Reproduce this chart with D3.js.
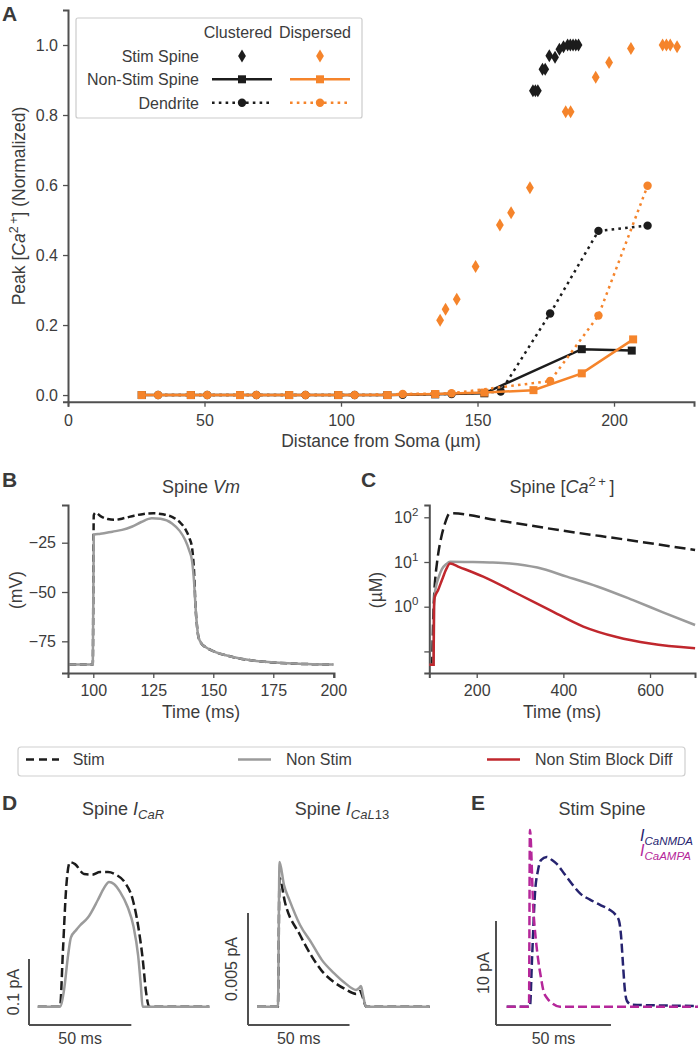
<!DOCTYPE html>
<html><head><meta charset="utf-8">
<script src="https://cdn.jsdelivr.net/npm/d3@7"></script>
<style>
html,body{margin:0;padding:0;background:#fff;}
svg text{font-family:"Liberation Sans",Arial,Helvetica,sans-serif;}
</style></head>
<body>
<svg id="fig" width="698" height="1045" xmlns="http://www.w3.org/2000/svg"></svg>
<script>
// ================= DATA =================
// Panel A : peak [Ca2+] (normalized) vs distance from soma (um)
const aTicksX = [0, 50, 100, 150, 200];
const aTicksY = [0, 0.2, 0.4, 0.6, 0.8, 1.0];
const sqDistDisp   = [27, 45, 63, 81, 99, 117, 134.5, 152.5, 170.5, 188.2, 207];
const nonStimDisp  = [0, 0, 0, 0, 0, 0, 0.003, 0.007, 0.014, 0.062, 0.159];
const sqDistClust  = [27, 45, 63, 81, 99, 117, 134.5, 152.5, 188.2, 206.5];
const nonStimClust = [0, 0, 0, 0, 0, 0, 0.002, 0.005, 0.131, 0.127];
const circDistDisp  = [33, 51, 69, 87, 105, 122.6, 140.5, 176.6, 194.3, 212.3];
const dendDisp      = [0, 0, 0, 0, 0, 0.003, 0.005, 0.04, 0.227, 0.598];
const circDistClust = [33, 51, 69, 87, 105, 122.6, 140.5, 158.5, 176.6, 194.3, 212.3];
const dendClust     = [0, 0, 0, 0, 0, 0.001, 0.003, 0.01, 0.233, 0.469, 0.484];
const stimDistClust = [170.3, 171.2, 172.1, 173.8, 174.8, 176.3, 178.4, 180, 181.5, 183, 184, 185, 186, 187];
const stimClust     = [0.869, 0.869, 0.869, 0.931, 0.931, 0.969, 0.965, 0.988, 0.995, 1, 1, 1, 1, 1];
const stimDistDisp  = [136.3, 138.3, 142.4, 149.3, 158.2, 162.3, 169.2, 182.3, 184.1, 193.3, 198.2, 206.2, 217.8, 219.2, 220.6, 223.1];
const stimDisp      = [0.214, 0.245, 0.274, 0.367, 0.486, 0.521, 0.592, 0.809, 0.809, 0.908, 0.95, 0.99, 1, 1, 1, 0.995];

// Panel B : spine Vm (mV) vs time (ms)
const bTicksX = [100, 125, 150, 175, 200];
const bTicksY = [-75, -50, -25];
const vmStimT = [90, 99.8, 100.2, 101, 103, 106, 109, 113, 117, 121, 125, 129, 133, 136, 138.3, 140, 141.2, 142, 142.6, 143.2, 143.8, 145, 146.6, 150, 157.7, 165, 171.6, 185.5, 200];
const vmStim  = [-86.7, -86.7, -11, -9.8, -11.5, -13, -13.4, -12.5, -11.3, -10.4, -10.1, -10.6, -12, -14.5, -18, -22.5, -28, -40, -57.4, -67, -72.7, -76, -77.8, -80, -82.8, -84.5, -85.4, -86.4, -86.8];
const vmNonT  = [90, 99.8, 100.2, 103, 108, 112, 116, 120, 124.4, 128, 132.8, 136, 138.3, 140, 141.1, 142, 142.6, 143.2, 143.8, 145, 146.6, 150, 157.7, 165, 171.6, 185.5, 200];
const vmNon   = [-86.7, -86.7, -21, -20.5, -19.4, -18.5, -16.9, -14.5, -12.6, -12.9, -15.2, -19, -23.6, -29, -33.8, -45, -57.4, -67, -72.7, -76, -77.8, -80, -82.8, -84.5, -85.4, -86.4, -86.8];

// Panel C : spine [Ca2+] (uM, log) vs time (ms)
const cTicksX = [200, 400, 600];
const cTicksY = [0.1, 1, 10, 100];
const caStimT = [90.6, 97, 98.5, 100, 102, 105, 108, 111.3, 118, 126.8, 138.3, 250, 400, 550, 704];
const caStim  = [0.05, 0.05, 0.2, 0.7, 2, 5, 9, 15.6, 35, 73, 123, 85, 50, 31, 18.5];
const caNonT  = [90.6, 100.5, 101.5, 103, 106, 112, 120, 130, 138.3, 180, 230, 277, 340, 408, 480, 561, 630, 704];
const caNon   = [0.05, 0.05, 1.0, 1.8, 2.8, 4.5, 7, 9, 10.1, 10, 9.8, 9.3, 7.5, 4.7, 2.8, 1.4, 0.75, 0.39];
const caBlkT  = [90.6, 100.5, 101.5, 103, 111, 120, 130, 138.3, 160, 215, 292, 369, 446, 523, 600, 704];
const caBlk   = [0.05, 0.05, 1.0, 1.6, 2.36, 4, 7, 9.3, 7.7, 4.7, 2.0, 0.84, 0.36, 0.21, 0.15, 0.117];

// Panel D : spine I_CaR (pA) and I_CaL13 (pA) vs time (ms from window start)
const carT_stim = [0, 10.85, 12.3, 13.8, 15.7, 18.2, 22.6, 26.5, 30.4, 34.3, 38.2, 42.6, 46.5, 49.0, 51.2, 52.9, 54.4, 83.8];
const car_stim  = [0, 0, 0.086, 0.177, 0.219, 0.216, 0.201, 0.200, 0.204, 0.204, 0.200, 0.188, 0.161, 0.123, 0.074, 0.022, 0, 0];
const carT_non  = [0, 10.85, 12.8, 14.8, 16.2, 18.7, 20.6, 24.5, 29.4, 32.4, 34.8, 37.2, 40.2, 43.9, 46.8, 49.0, 50.4, 51.2, 83.8];
const car_non   = [0, 0, 0.025, 0.078, 0.105, 0.116, 0.123, 0.135, 0.162, 0.180, 0.189, 0.186, 0.174, 0.151, 0.121, 0.078, 0.030, 0, 0];
const cal13T_stim = [0, 10.3, 11.1, 13.8, 21.2, 26.9, 32.0, 37.9, 43.3, 48.8, 50.7, 52.2, 53.7, 85];
const cal13_stim  = [0, 0, 0.00575, 0.00465, 0.00320, 0.00226, 0.00159, 0.00110, 0.00079, 0.00057, 0.00070, 0.00039, 0, 0];
const cal13T_non  = [0, 10.3, 11.1, 13.3, 16.0, 21.2, 26.9, 32.0, 37.9, 43.3, 48.8, 50.2, 51.2, 52.2, 53.7, 85];
const cal13_non   = [0, 0, 0.00646, 0.00543, 0.00476, 0.00365, 0.00284, 0.00208, 0.00150, 0.00106, 0.00075, 0.00083, 0.00092, 0.00052, 0, 0];

// Panel E : stim spine I_CaNMDA, I_CaAMPA (pA)
const nmdaT = [0, 10.1, 11.0, 12.3, 13.6, 14.9, 17.4, 19.7, 21.9, 25.3, 28.4, 31.9, 36.2, 40.6, 44.9, 47.1, 48.8, 49.7, 50.6, 51.4, 52.3, 54.3, 66.7, 83.2];
const nmda  = [0, 0, 4.5, 10.9, 13.1, 14.1, 14.4, 14.1, 13.7, 12.7, 11.8, 10.9, 10.3, 9.8, 9.3, 8.9, 8.3, 6.9, 4.0, 1.6, 0.55, 0.2, 0.12, 0.07];
const ampaT = [0, 9.7, 10.1, 11.6, 12.7, 13.7, 14.9, 15.9, 17.5, 19.6, 23.2, 83.2];
const ampa  = [0, 0, 17.0, 9.3, 6.4, 4.5, 2.8, 1.6, 0.84, 0.36, 0, 0];

// ================= STYLE =================
const svg = d3.select("#fig");
const FONT = '"Liberation Sans", Arial, Helvetica, sans-serif';
const TXT = "#3c3c3c", AX = "#505050";
const ORANGE = "#f5842b", BLACK = "#1c1c1c", GREY = "#9b9b9b", RED = "#c0272d", NAVY = "#26236f", MAGENTA = "#b5279a";

function styleAxis(g) {
  g.select(".domain").attr("stroke", AX).attr("stroke-width", 2);
  g.selectAll(".tick line").attr("stroke", AX).attr("stroke-width", 1.3);
  g.selectAll(".tick text").attr("fill", TXT).attr("font-size", 16).attr("font-family", FONT);
}
function text(x, y, s, o = {}) {
  const t = svg.append("text").attr("x", x).attr("y", y).attr("fill", o.fill || TXT)
    .attr("font-size", o.size || 16).attr("text-anchor", o.anchor || "start").text(s);
  if (o.bold) t.attr("font-weight", "bold");
  if (o.italic) t.attr("font-style", "italic");
  return t;
}
function panelLetter(x, y, s) { text(x, y, s, {size: 21, bold: true, fill: "#3a3a3a"}); }
const diamondPath = "M0,-6.5L3.9,0L0,6.5L-3.9,0Z";
const squarePath = "M-4,-4H4V4H-4Z";

// ================= PANEL A =================
const xA = d3.scaleLinear().domain([0, 229.3]).range([68, 694]);
const yA = d3.scaleLinear().domain([-0.019, 1.1]).range([401.7, 10]);
const gA = svg.append("g");
gA.append("g").attr("transform", `translate(0,${yA.range()[0]})`)
  .call(d3.axisBottom(xA).tickValues(aTicksX).tickFormat(d3.format("d")).tickSizeOuter(0).tickSize(5).tickPadding(7.5)).call(styleAxis);
gA.append("g").attr("transform", `translate(${xA.range()[0]},0)`)
  .call(d3.axisLeft(yA).tickValues(aTicksY).tickFormat(d3.format(".1f")).tickSizeOuter(0).tickSize(5).tickPadding(5)).call(styleAxis);

const lineA = d3.line().x(d => xA(d[0])).y(d => yA(d[1]));
function seriesA(xs, ys, color, dash, marker) {
  const pts = d3.zip(xs, ys);
  gA.append("path").datum(pts).attr("d", lineA).attr("fill", "none").attr("stroke", color)
    .attr("stroke-width", 2.5).attr("stroke-dasharray", dash);
  if (marker === "sq") {
    gA.selectAll(null).data(pts).enter().append("path").attr("d", squarePath)
      .attr("transform", d => `translate(${xA(d[0])},${yA(d[1])})`).attr("fill", color);
  } else {
    gA.selectAll(null).data(pts).enter().append("circle").attr("cx", d => xA(d[0])).attr("cy", d => yA(d[1]))
      .attr("r", 4.2).attr("fill", color);
  }
}
seriesA(sqDistClust, nonStimClust, BLACK, null, "sq");
seriesA(circDistClust, dendClust, BLACK, "2.6,4.2", "ci");
seriesA(sqDistDisp, nonStimDisp, ORANGE, null, "sq");
seriesA(circDistDisp, dendDisp, ORANGE, "2.6,4.2", "ci");
gA.selectAll(null).data(d3.zip(stimDistClust, stimClust)).enter().append("path").attr("d", diamondPath)
  .attr("transform", d => `translate(${xA(d[0])},${yA(d[1])})`).attr("fill", BLACK);
gA.selectAll(null).data(d3.zip(stimDistDisp, stimDisp)).enter().append("path").attr("d", diamondPath)
  .attr("transform", d => `translate(${xA(d[0])},${yA(d[1])})`).attr("fill", ORANGE);

// legend A
svg.append("rect").attr("x", 76).attr("y", 18).attr("width", 286).attr("height", 100).attr("rx", 2)
  .attr("fill", "#fff").attr("fill-opacity", 0.85).attr("stroke", "#cccccc").attr("stroke-width", 1.2);
text(238, 37.5, "Clustered", {anchor: "middle"});
text(315, 37.5, "Dispersed", {anchor: "middle"});
text(199, 61.7, "Stim Spine", {anchor: "end"});
text(199, 85, "Non-Stim Spine", {anchor: "end"});
text(199, 108.5, "Dendrite", {anchor: "end"});
[[242, BLACK], [320, ORANGE]].forEach(([cx, col]) => {
  svg.append("path").attr("d", diamondPath).attr("transform", `translate(${cx},56)`).attr("fill", col);
  svg.append("line").attr("x1", cx - 30).attr("x2", cx + 30).attr("y1", 79.3).attr("y2", 79.3).attr("stroke", col).attr("stroke-width", 2.5);
  svg.append("path").attr("d", squarePath).attr("transform", `translate(${cx},79.3)`).attr("fill", col);
  svg.append("line").attr("x1", cx - 30).attr("x2", cx + 30).attr("y1", 102.7).attr("y2", 102.7).attr("stroke", col).attr("stroke-width", 2.5).attr("stroke-dasharray", "2.6,4.2");
  svg.append("circle").attr("cx", cx).attr("cy", 102.7).attr("r", 4.2).attr("fill", col);
});

// axis labels A
{
  const t = svg.append("text").attr("transform", "translate(25,206) rotate(-90)").attr("text-anchor", "middle")
    .attr("fill", TXT).attr("font-size", 17.5);
  t.append("tspan").text("Peak [");
  t.append("tspan").attr("font-style", "italic").text("Ca");
  t.append("tspan").attr("dy", -7).attr("font-size", 12.5).text("2\u2009+");
  t.append("tspan").attr("dy", 7).text("] (Normalized)");
}
text(381, 447, "Distance from Soma (\u00b5m)", {anchor: "middle", size: 17.5});
panelLetter(2, 21, "A");

// ================= PANEL B =================
const xB = d3.scaleLinear().domain([89.46, 200.3]).range([68, 334]);
const yB = d3.scaleLinear().domain([-91.07, -5.88]).range([673, 505]);
const gB = svg.append("g");
gB.append("g").attr("transform", "translate(0,673)")
  .call(d3.axisBottom(xB).tickValues(bTicksX).tickFormat(d3.format("d")).tickSizeOuter(0).tickSize(5).tickPadding(7)).call(styleAxis);
gB.append("g").attr("transform", "translate(68,0)")
  .call(d3.axisLeft(yB).tickValues(bTicksY).tickFormat(d3.format("d")).tickSizeOuter(0).tickSize(6).tickPadding(6)).call(styleAxis);
const lineB = d3.line().x(d => xB(d[0])).y(d => yB(d[1])).curve(d3.curveMonotoneX);
gB.append("path").datum(d3.zip(vmStimT, vmStim)).attr("d", lineB).attr("fill", "none").attr("stroke", BLACK)
  .attr("stroke-width", 2.5).attr("stroke-dasharray", "7,3.5");
gB.append("path").datum(d3.zip(vmNonT, vmNon)).attr("d", lineB).attr("fill", "none").attr("stroke", GREY)
  .attr("stroke-width", 2.5);
{
  const t = text(201, 493, "Spine ", {anchor: "middle", size: 18});
  t.append("tspan").attr("font-style", "italic").text("Vm");
}
text(201, 718, "Time (ms)", {anchor: "middle", size: 17.5});
svg.append("text").attr("transform", "translate(22,590) rotate(-90)").attr("text-anchor", "middle")
  .attr("fill", TXT).attr("font-size", 17.5).text("(mV)");
panelLetter(2, 487, "B");

// ================= PANEL C =================
const xC = d3.scaleLinear().domain([90.6, 703.8]).range([429.3, 695]);
const yC = d3.scaleLog().domain([Math.pow(10, -1.483), Math.pow(10, 2.275)]).range([673, 505]);
const gC = svg.append("g");
gC.append("g").attr("transform", "translate(0,673)")
  .call(d3.axisBottom(xC).tickValues(cTicksX).tickFormat(d3.format("d")).tickSizeOuter(0).tickSize(5).tickPadding(7)).call(styleAxis);
const gCy = gC.append("g").attr("transform", "translate(429.3,0)")
  .call(d3.axisLeft(yC).tickValues(cTicksY).tickFormat(() => "").tickSizeOuter(0).tickSize(5).tickPadding(6)).call(styleAxis);
gCy.selectAll(".tick text").each(function(d) {
  if (d < 1 - 1e-9 && d !== 1) { if (d < 0.5) return; }
  const e = Math.round(Math.log10(d));
  const t = d3.select(this);
  t.append("tspan").text("10");
  t.append("tspan").attr("dy", -7).attr("font-size", 11.5).text(String(e));
});
const lineC = d3.line().x(d => xC(d[0])).y(d => yC(d[1])).curve(d3.curveMonotoneX);
gC.append("path").datum(d3.zip(caStimT, caStim)).attr("d", lineC).attr("fill", "none").attr("stroke", BLACK)
  .attr("stroke-width", 2.5).attr("stroke-dasharray", "11,5");
gC.append("path").datum(d3.zip(caNonT, caNon)).attr("d", lineC).attr("fill", "none").attr("stroke", GREY)
  .attr("stroke-width", 2.5);
gC.append("path").datum(d3.zip(caBlkT, caBlk)).attr("d", lineC).attr("fill", "none").attr("stroke", RED)
  .attr("stroke-width", 2.5);
{
  const t = text(562, 493, "Spine [", {anchor: "middle", size: 18});
  t.append("tspan").attr("font-style", "italic").text("Ca");
  t.append("tspan").attr("dy", -7).attr("font-size", 13).text("2\u2009+");
  t.append("tspan").attr("dy", 7).text("\u2009]");
}
text(562, 718, "Time (ms)", {anchor: "middle", size: 17.5});
svg.append("text").attr("transform", "translate(382,590) rotate(-90)").attr("text-anchor", "middle")
  .attr("fill", TXT).attr("font-size", 17.5).text("(\u00b5M)");
panelLetter(361, 487, "C");

// ================= SHARED LEGEND =================
svg.append("rect").attr("x", 18).attr("y", 747).attr("width", 667).attr("height", 29).attr("rx", 3)
  .attr("fill", "#fff").attr("stroke", "#cfcfcf").attr("stroke-width", 1.2);
[[26, BLACK, "8,5", 72.7, "Stim"], [238, GREY, null, 286, "Non Stim"], [487, RED, null, 535, "Non Stim Block Diff"]]
  .forEach(([x0, col, dash, tx, s]) => {
    svg.append("line").attr("x1", x0).attr("x2", x0 + 33).attr("y1", 759.5).attr("y2", 759.5)
      .attr("stroke", col).attr("stroke-width", 2.5).attr("stroke-dasharray", dash);
    text(tx, 765.3, s, {size: 16});
  });

// ================= PANEL D / E helpers =================
function scaleBar(x0, y0, lenX, lenY, labY, labX, cxLabY) {
  svg.append("line").attr("x1", x0).attr("x2", x0).attr("y1", y0).attr("y2", y0 - lenY).attr("stroke", AX).attr("stroke-width", 2);
  svg.append("line").attr("x1", x0).attr("x2", x0 + lenX).attr("y1", y0).attr("y2", y0).attr("stroke", AX).attr("stroke-width", 2);
  svg.append("text").attr("transform", `translate(${cxLabY},${y0 - lenY / 2}) rotate(-90)`).attr("text-anchor", "middle")
    .attr("fill", TXT).attr("font-size", 16).text(labY);
  text(x0 + lenX / 2, 1043.5, labX, {anchor: "middle", size: 16});
}
function trace(xs, ys, ts, vs, col, dash) {
  const ln = d3.line().x(d => xs(d[0])).y(d => ys(d[1])).curve(d3.curveMonotoneX);
  svg.append("path").datum(d3.zip(ts, vs)).attr("d", ln).attr("fill", "none").attr("stroke", col)
    .attr("stroke-width", 2.5).attr("stroke-dasharray", dash);
}
function subTitle(cx, main, sub, col, size, subSize, italicSub) {
  const t = text(cx, 814.5, main, {anchor: "middle", size: size, fill: col});
  t.append("tspan").attr("font-style", "italic").text("I");
  t.append("tspan").attr("dy", 4.5).attr("font-size", subSize).attr("font-style", "italic").text(sub);
  return t;
}

// D1 : I_CaR
const xD1 = d3.scaleLinear().domain([0, 83.8]).range([37.8, 209.3]);
const yD1 = d3.scaleLinear().domain([0, 0.1]).range([1006.7, 940.7]);
trace(xD1, yD1, carT_stim, car_stim, BLACK, "9,4");
trace(xD1, yD1, carT_non, car_non, GREY, null);
scaleBar(29, 1025, xD1(50) - xD1(0), yD1(0) - yD1(0.1), "0.1 pA", "50 ms", 19);
subTitle(123, "Spine ", "CaR", TXT, 18, 13);
panelLetter(2, 810, "D");

// D2 : I_CaL13
const xD2 = d3.scaleLinear().domain([0, 85]).range([257, 429.6]);
const yD2 = d3.scaleLinear().domain([0, 0.005]).range([1006.7, 894.7]);
trace(xD2, yD2, cal13T_stim, cal13_stim, BLACK, "9,4");
trace(xD2, yD2, cal13T_non, cal13_non, GREY, null);
scaleBar(248, 1025, xD2(50) - xD2(0), yD2(0) - yD2(0.005), "0.005 pA", "50 ms", 237);
{
  const t = text(342, 814.5, "Spine ", {anchor: "middle", size: 18});
  t.append("tspan").attr("font-style", "italic").text("I");
  t.append("tspan").attr("dy", 4.5).attr("font-size", 13).attr("font-style", "italic").text("CaL");
  t.append("tspan").attr("font-size", 13).text("13");
}

// E : stim spine NMDA / AMPA
const xE = d3.scaleLinear().domain([0, 83.2]).range([506.7, 698]);
const yE = d3.scaleLinear().domain([0, 10]).range([1006.7, 902.7]);
trace(xE, yE, nmdaT, nmda, NAVY, "9,4");
trace(xE, yE, ampaT, ampa, MAGENTA, "9,4");
scaleBar(496, 1025, xE(50) - xE(0), yE(0) - yE(10), "10 pA", "50 ms", 489);
text(602, 814.5, "Stim Spine", {anchor: "middle", size: 18});
panelLetter(471, 810, "E");
{
  const t1 = text(640, 841, "", {size: 16, fill: NAVY});
  t1.append("tspan").attr("font-style", "italic").text("I");
  t1.append("tspan").attr("dy", 4).attr("font-size", 11.5).attr("font-style", "italic").text("CaNMDA");
  const t2 = text(640, 856, "", {size: 16, fill: MAGENTA});
  t2.append("tspan").attr("font-style", "italic").text("I");
  t2.append("tspan").attr("dy", 4).attr("font-size", 11.5).attr("font-style", "italic").text("CaAMPA");
}
</script>
</body></html>
